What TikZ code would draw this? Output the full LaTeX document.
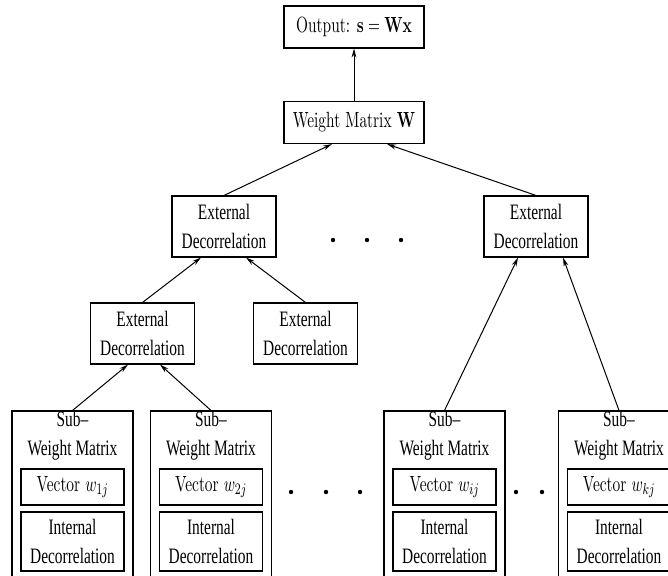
\documentclass[tikz,border=0pt]{standalone}
\usepackage[no-math]{fontspec}
\usepackage{graphicx}
\setmainfont{Liberation Serif}[FakeStretch=0.7]
\newfontfamily\lmr{Latin Modern Roman}
\usetikzlibrary{arrows.meta,calc}

% narrow Computer-Modern style label (text plus math)
\newcommand{\cmlabel}[1]{\scalebox{0.7}[1]{\lmr #1}}
\newcommand{\boxfont}{\fontsize{11}{14.5}\selectfont}

\tikzset{
  blk/.style={draw, line width=0.55pt, inner sep=0pt, align=center, font=\boxfont},
  topbox/.style={blk, minimum width=70pt, minimum height=21pt},
  extbox/.style={blk, minimum width=52pt, minimum height=30.5pt},
  subbox/.style={blk, minimum width=60.5pt, minimum height=89.5pt},
  vecbox/.style={blk, minimum width=51.5pt, minimum height=18pt},
  intbox/.style={blk, minimum width=51.5pt, minimum height=29.5pt},
  lbl/.style={inner sep=0pt, align=center, font=\boxfont},
  link/.style={line width=0.5pt, -{Stealth[length=4.5pt,width=2.4pt]}},
  dot/.style={fill=black}
}

\begin{document}
\begin{tikzpicture}[x=0.5pt, y=-0.5pt]
  \clip (0,0) rectangle (668,575);

  % top of the hierarchy
  \node[topbox] (out) at (354,27)    {\cmlabel{Output: $\mathbf{s}=\mathbf{Wx}$}};
  \node[topbox] (wm)  at (354,122.5) {\cmlabel{Weight Matrix $\mathbf{W}$}};

  % external decorrelation stages
  \node[extbox] (e1) at (224,226.5)   {External\\Decorrelation};
  \node[extbox] (e4) at (536,226.5)   {External\\Decorrelation};
  \node[extbox] (e2) at (142.5,333.5) {External\\Decorrelation};
  \node[extbox] (e3) at (305.5,333.5) {External\\Decorrelation};

  % sub-weight matrices
  \foreach \n/\cx/\idx in {1/72.5/1, 2/211/2, 3/444.5/i, 4/619/k} {
    \node[subbox] (b\n) at (\cx,500.5) {};
    \node[lbl] (t\n) at (\cx,436) {Sub--\\Weight Matrix};
    \node[vecbox] (v\n) at (\cx,487) {\cmlabel{Vector $w_{\idx j}$}};
    \node[intbox] (d\n) at (\cx,541.5) {Internal\\Decorrelation};
  }

  % connectors
  \draw[link] (wm.north) -- (out.south);
  \draw[link] (e1.north) -- ([xshift=-11pt]wm.south);
  \draw[link] (e4.north) -- ([xshift=16.5pt]wm.south);
  \draw[link] (e2.north) -- ([xshift=-11.5pt]e1.south);
  \draw[link] (e3.north) -- ([xshift=11pt]e1.south);
  \draw[link] (b1.north) -- ([xshift=-7.25pt]e2.south);
  \draw[link] (b2.north) -- ([xshift=8.75pt]e2.south);
  \draw[link] (b3.north) -- ([xshift=-9pt]e4.south);
  \draw[link] (b4.north) -- ([xshift=13.5pt]e4.south);

  % ellipses
  \foreach \px in {333,367,401} \fill[dot] (\px,240) circle (1.1pt);
  \foreach \px in {291,326,360} \fill[dot] (\px,492) circle (1.1pt);
  \foreach \px in {516,542} \fill[dot] (\px,492) circle (1.1pt);
\end{tikzpicture}
\end{document}
